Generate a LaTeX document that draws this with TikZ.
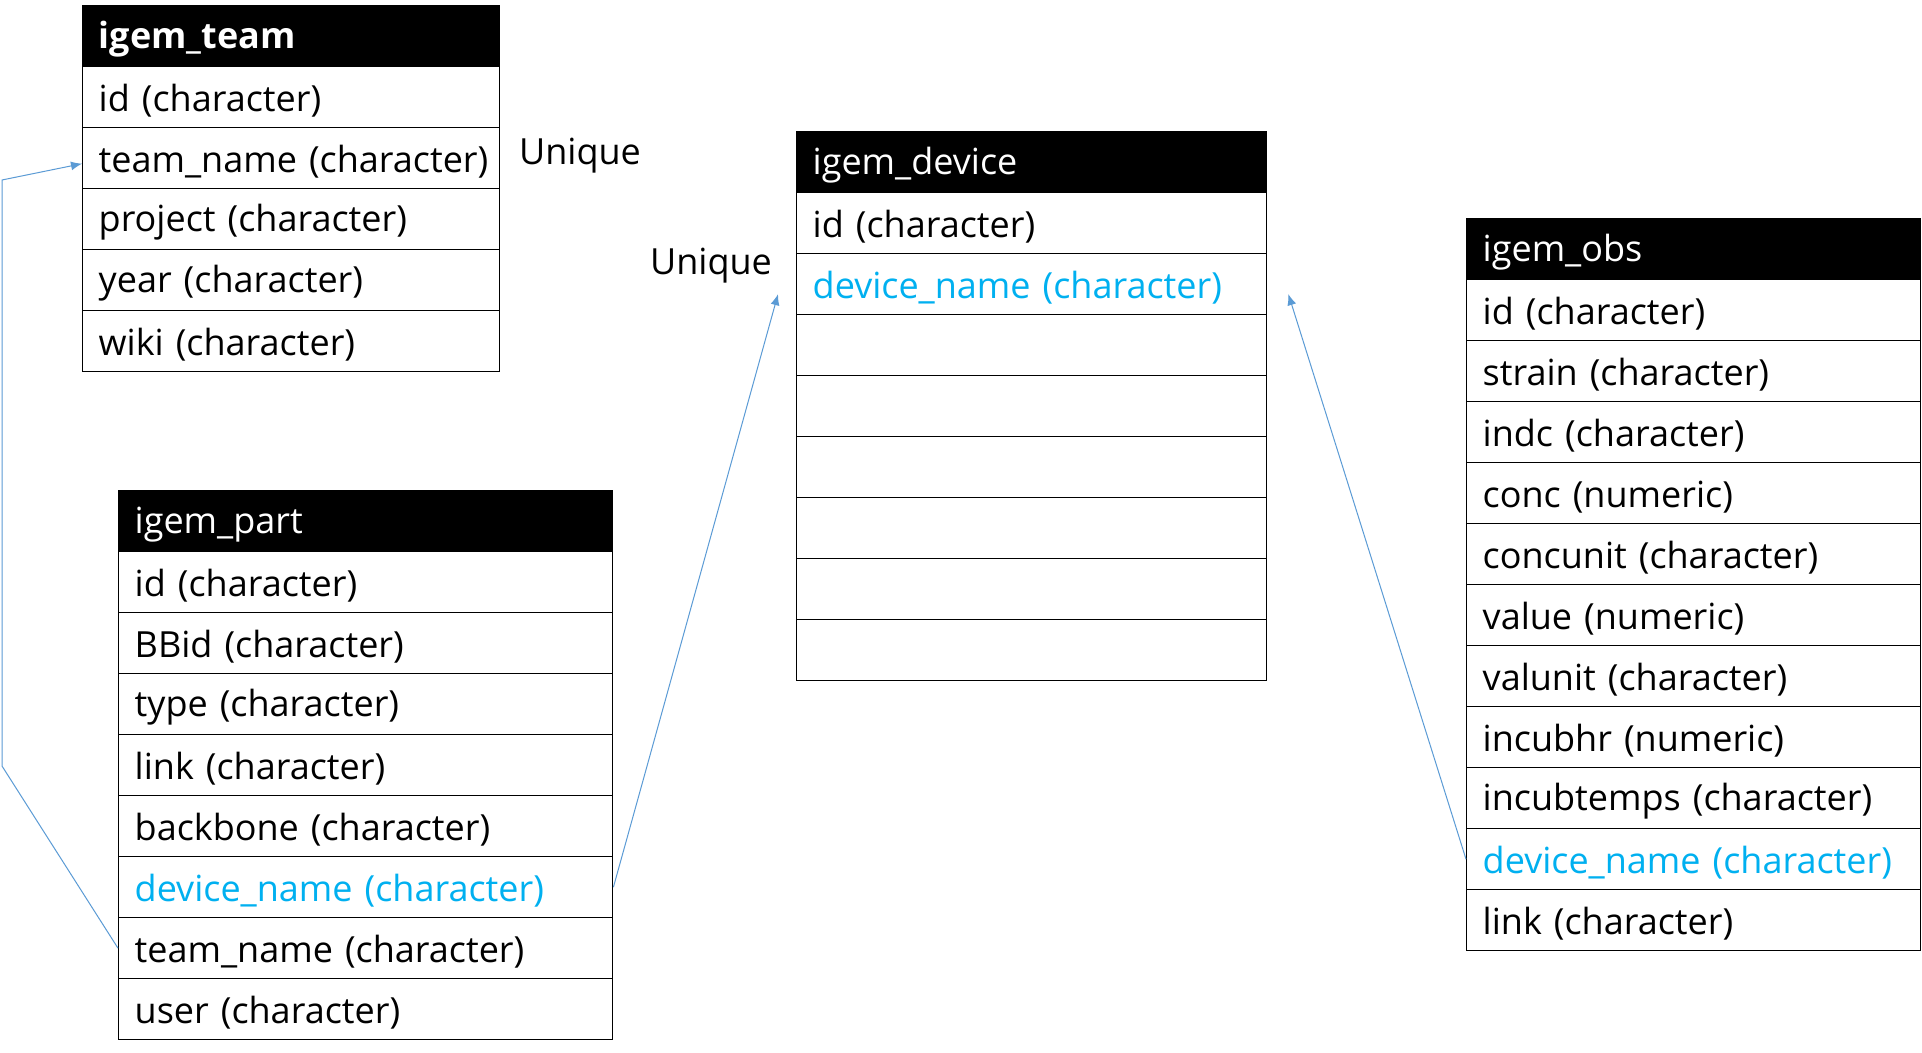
\documentclass[tikz,border=0pt]{standalone}
\usepackage{fontspec}
\setmainfont{Open Sans}
\usetikzlibrary{arrows.meta}
\definecolor{linkblue}{HTML}{5B9BD5}
\definecolor{keyblue}{HTML}{00B0F0}
\newcommand{\rowstrut}{\rule[-2pt]{0pt}{19pt}}
\begin{document}
\begin{tikzpicture}[x=0.5pt,y=-0.5pt,
  cell/.style={draw=black, line width=0.7pt, rectangle, anchor=north west,
    minimum height=30.5pt, inner xsep=8pt, inner ysep=0pt, text width=#1,
    align=left, font=\fontsize{18}{21}\selectfont},
  head/.style={cell=#1, fill=black, text=white},
  link/.style={draw=linkblue, line width=0.5pt, -{Latex[length=5.5pt,width=4.5pt]}},
  note/.style={font=\fontsize{18}{21}\selectfont}
]
\useasboundingbox (0,0) rectangle (1922,1053);
\fill[white] (0,0) rectangle (1922,1053);

% igem_team
\node[head=192.5pt] (team-h) at (82,5) {\rowstrut\bfseries igem\_team};
\foreach \t/\c [count=\i] in {id (character)/black, team\_name (character)/black,
  project (character)/black, year (character)/black, wiki (character)/black}
  \node[cell=192.5pt, text=\c] (team-\i) at (82,{5+61*\i}) {\rowstrut\mbox{\t}};

% igem_part
\node[head=231pt] (part-h) at (118,490) {\rowstrut igem\_part};
\foreach \t/\c [count=\i] in {id (character)/black, BBid (character)/black,
  type (character)/black, link (character)/black, backbone (character)/black,
  device\_name (character)/keyblue, team\_name (character)/black, user (character)/black}
  \node[cell=231pt, text=\c] (part-\i) at (118,{490+61*\i}) {\rowstrut\mbox{\t}};

% igem_device
\node[head=219pt] (dev-h) at (796,131) {\rowstrut igem\_device};
\foreach \t/\c [count=\i] in {id (character)/black, device\_name (character)/keyblue,
  /black, /black, /black, /black, /black, /black}
  \node[cell=219pt, text=\c] (dev-\i) at (796,{131+61*\i}) {\rowstrut\mbox{\t}};

% igem_obs
\node[head=211pt] (obs-h) at (1466,218) {\rowstrut igem\_obs};
\foreach \t/\c [count=\i] in {id (character)/black, strain (character)/black,
  indc (character)/black, conc (numeric)/black, concunit (character)/black,
  value (numeric)/black, valunit (character)/black, incubhr (numeric)/black,
  incubtemps (character)/black, device\_name (character)/keyblue, link (character)/black}
  \node[cell=211pt, text=\c] (obs-\i) at (1466,{218+61*\i}) {\rowstrut\mbox{\t}};

% labels
\node[note] (u1) at (580,156) {Unique};
\node[note] (u2) at (711,266) {Unique};

% connectors
\coordinate (lc1) at (2,766);
\coordinate (lc2) at (2,180);
\draw[link] (part-7.west) -- (lc1) -- (lc2) -- ([yshift=-2.75pt]team-2.west);
\draw[link] (part-6.east) -- ([xshift=-9pt,yshift=-5pt]dev-2.west);
\draw[link] (obs-10.west) -- ([xshift=10.5pt,yshift=-5pt]dev-2.east);
\end{tikzpicture}
\end{document}
